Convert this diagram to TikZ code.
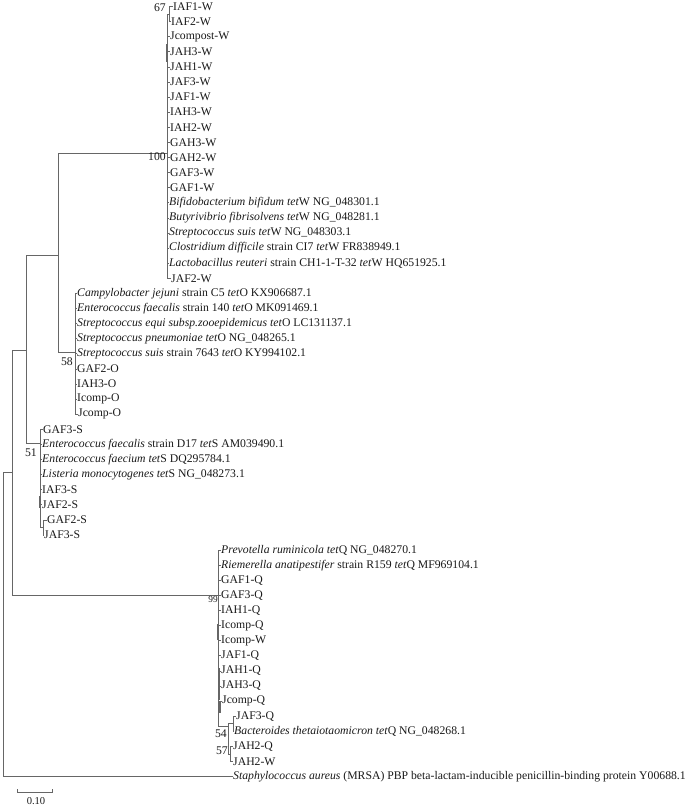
\documentclass[tikz,border=0pt]{standalone}
\usepackage{fontspec}
\setmainfont{Liberation Serif}
\usepackage{tikz}

\begin{document}
\begin{tikzpicture}[x=0.03cm,y=0.03cm]
\tikzstyle{every node}+=[inner sep=0pt]
\tikzstyle{taxon}=[anchor=west, text=black!90]
\tikzstyle{boot}=[anchor=east, text=black!90]
\tikzstyle{branch}=[black!60, line width=0.6pt]
\useasboundingbox (0,0) rectangle (685,-806);
% tet(W) group
\node [taxon] (w0) at (173,-6.5) {IAF1-W};
\node [taxon] (w1) at (171,-21.6) {IAF2-W};
\node [taxon] (w2) at (170,-36.7) {Jcompost-W};
\node [taxon] (w3) at (170,-51.8) {JAH3-W};
\node [taxon] (w4) at (170,-66.9) {JAH1-W};
\node [taxon] (w5) at (170,-82.0) {JAF3-W};
\node [taxon] (w6) at (170,-97.1) {JAF1-W};
\node [taxon] (w7) at (170,-112.2) {IAH3-W};
\node [taxon] (w8) at (170,-127.3) {IAH2-W};
\node [taxon] (w9) at (170,-142.4) {GAH3-W};
\node [taxon] (w10) at (170,-157.5) {GAH2-W};
\node [taxon] (w11) at (170,-172.6) {GAF3-W};
\node [taxon] (w12) at (170,-187.7) {GAF1-W};
\node [taxon] (w13) at (169,-202.8) {\textit{Bifidobacterium bifidum tet}W NG\_048301.1};
\node [taxon] (w14) at (169,-217.9) {\textit{Butyrivibrio fibrisolvens tet}W NG\_048281.1};
\node [taxon] (w15) at (169,-233.0) {\textit{Streptococcus suis tet}W NG\_048303.1};
\node [taxon] (w16) at (169,-248.1) {\textit{Clostridium difficile} strain CI7 \textit{tet}W FR838949.1};
\node [taxon] (w17) at (169,-263.2) {\textit{Lactobacillus reuteri} strain CH1-1-T-32 \textit{tet}W HQ651925.1};
\node [taxon] (w18) at (171,-278.3) {JAF2-W};
% tet(O) group
\node [taxon] (o19) at (77,-293.4) {\textit{Campylobacter jejuni} strain C5 \textit{tet}O KX906687.1};
\node [taxon] (o20) at (77,-308.5) {\textit{Enterococcus faecalis} strain 140 \textit{tet}O MK091469.1};
\node [taxon] (o21) at (77,-323.6) {\textit{Streptococcus equi subsp.zooepidemicus tet}O LC131137.1};
\node [taxon] (o22) at (77,-338.7) {\textit{Streptococcus pneumoniae tet}O NG\_048265.1};
\node [taxon] (o23) at (77,-353.8) {\textit{Streptococcus suis} strain 7643 \textit{tet}O KY994102.1};
\node [taxon] (o24) at (77,-368.9) {GAF2-O};
\node [taxon] (o25) at (77,-384.0) {IAH3-O};
\node [taxon] (o26) at (77,-399.1) {Icomp-O};
\node [taxon] (o27) at (78,-414.2) {Jcomp-O};
% tet(S) group
\node [taxon] (s28) at (43,-429.3) {GAF3-S};
\node [taxon] (s29) at (42,-444.4) {\textit{Enterococcus faecalis} strain D17 \textit{tet}S AM039490.1};
\node [taxon] (s30) at (42,-459.5) {\textit{Enterococcus faecium tet}S DQ295784.1};
\node [taxon] (s31) at (42,-474.6) {\textit{Listeria monocytogenes tet}S NG\_048273.1};
\node [taxon] (s32) at (42,-489.7) {IAF3-S};
\node [taxon] (s33) at (42,-504.8) {JAF2-S};
\node [taxon] (s34) at (47,-519.9) {GAF2-S};
\node [taxon] (s35) at (44,-535.0) {JAF3-S};
% tet(Q) group
\node [taxon] (q36) at (221,-550.1) {\textit{Prevotella ruminicola tet}Q NG\_048270.1};
\node [taxon] (q37) at (221,-565.2) {\textit{Riemerella anatipestifer} strain R159 \textit{tet}Q MF969104.1};
\node [taxon] (q38) at (221,-580.3) {GAF1-Q};
\node [taxon] (q39) at (221,-595.4) {GAF3-Q};
\node [taxon] (q40) at (221,-610.5) {IAH1-Q};
\node [taxon] (q41) at (221,-625.6) {Icomp-Q};
\node [taxon] (q42) at (221,-640.7) {Icomp-W};
\node [taxon] (q43) at (221,-655.8) {JAF1-Q};
\node [taxon] (q44) at (221,-670.9) {JAH1-Q};
\node [taxon] (q45) at (221,-686.0) {JAH3-Q};
\node [taxon] (q46) at (222,-701.1) {Jcomp-Q};
\node [taxon] (q47) at (236,-716.2) {JAF3-Q};
\node [taxon] (q48) at (234,-731.3) {\textit{Bacteroides thetaiotaomicron tet}Q NG\_048268.1};
\node [taxon] (q49) at (233,-746.4) {JAH2-Q};
\node [taxon] (q50) at (233,-761.5) {JAH2-W};
% outgroup
\node [taxon] (st) at (233,-776.6) {\textit{Staphylococcus aureus} (MRSA) PBP beta-lactam-inducible penicillin-binding protein Y00688.1};
% inner nodes
\coordinate (n67) at (169,-14);
\coordinate (nW) at (167,-153);
\coordinate (nO) at (75,-352);
\coordinate (nWO) at (58,-255);
\coordinate (nSb) at (43,-527.5);
\coordinate (nS) at (40,-443);
\coordinate (n26) at (26,-350);
\coordinate (nJB) at (233,-723.7);
\coordinate (n57) at (230,-754);
\coordinate (n54) at (228,-726);
\coordinate (nQ) at (218,-595.4);
\coordinate (n12) at (12,-472.7);
\coordinate (root) at (3,-472.7);
% branches
\draw [branch] (n67 |- w0) -- (n67 |- w1);
\draw [branch] (n67 |- w0) -- (w0.west) (n67 |- w1) -- (w1.west);
\draw [branch] (nW |- n67) -- (nW |- w18);
\draw [branch] (nW |- n67) -- (n67);
\draw [branch] (nW |- w2) -- (w2.west) (nW |- w3) -- (w3.west) (nW |- w4) -- (w4.west)
  (nW |- w5) -- (w5.west) (nW |- w6) -- (w6.west) (nW |- w7) -- (w7.west)
  (nW |- w8) -- (w8.west) (nW |- w9) -- (w9.west) (nW |- w10) -- (w10.west)
  (nW |- w11) -- (w11.west) (nW |- w12) -- (w12.west) (nW |- w13) -- (w13.west)
  (nW |- w14) -- (w14.west) (nW |- w15) -- (w15.west) (nW |- w16) -- (w16.west)
  (nW |- w17) -- (w17.west) (nW |- w18) -- (w18.west);
\draw [branch] (nO |- o19) -- (nO |- o27);
\draw [branch] (nO |- o19) -- (o19.west) (nO |- o20) -- (o20.west) (nO |- o21) -- (o21.west)
  (nO |- o22) -- (o22.west) (nO |- o23) -- (o23.west) (nO |- o24) -- (o24.west)
  (nO |- o25) -- (o25.west) (nO |- o26) -- (o26.west) (nO |- o27) -- (o27.west);
\draw [branch] (nWO |- nW) -- (nWO |- nO);
\draw [branch] (nWO |- nW) -- (nW) (nWO |- nO) -- (nO);
\draw [branch] (nSb |- s34) -- (nSb |- s35);
\draw [branch] (nSb |- s34) -- (s34.west) (nSb |- s35) -- (s35.west);
\draw [branch] (nS |- s28) -- (nS |- nSb);
\draw [branch] (nS |- s28) -- (s28.west) (nS |- s29) -- (s29.west) (nS |- s30) -- (s30.west)
  (nS |- s31) -- (s31.west) (nS |- s32) -- (s32.west) (nS |- s33) -- (s33.west)
  (nS |- nSb) -- (nSb);
\draw [branch] (n26 |- nWO) -- (n26 |- nS);
\draw [branch] (n26 |- nWO) -- (nWO) (n26 |- nS) -- (nS);
\draw [branch] (nJB |- q47) -- (nJB |- q48);
\draw [branch] (nJB |- q47) -- (q47.west) (nJB |- q48) -- (q48.west);
\draw [branch] (n57 |- q49) -- (n57 |- q50);
\draw [branch] (n57 |- q49) -- (q49.west) (n57 |- q50) -- (q50.west);
\draw [branch] (n54 |- nJB) -- (n54 |- n57);
\draw [branch] (n54 |- nJB) -- (nJB) (n54 |- n57) -- (n57);
\draw [branch] (nQ |- q36) -- (nQ |- n54);
\draw [branch] (nQ |- q36) -- (q36.west) (nQ |- q37) -- (q37.west) (nQ |- q38) -- (q38.west)
  (nQ |- q39) -- (q39.west) (nQ |- q40) -- (q40.west) (nQ |- q41) -- (q41.west)
  (nQ |- q42) -- (q42.west) (nQ |- q43) -- (q43.west) (nQ |- q44) -- (q44.west)
  (nQ |- q45) -- (q45.west) (nQ |- q46) -- (q46.west) (nQ |- n54) -- (n54);
\draw [branch] (n12 |- n26) -- (n12 |- nQ);
\draw [branch] (n12 |- n26) -- (n26) (n12 |- nQ) -- (nQ);
\draw [branch] (root) -- (root |- st);
\draw [branch] (root) -- (n12) (root |- st) -- (st.west);
% near-zero subclades
\draw [branch, line width=1.4pt] (167,-44) -- (167,-62);
\draw [branch, line width=1.4pt] (40,-496) -- (40,-508);
\draw [branch, line width=1.4pt] (218,-624) -- (218,-640);
\draw [branch, line width=1.4pt] (219,-668) -- (219,-700);
\draw [branch, line width=1.4pt] (220,-701) -- (220,-713);
% bootstrap values
\node [boot] (b67) at (166,-8) {67};
\node [boot] (b100) at (166,-157) {100};
\node [boot] (b58) at (73,-362) {58};
\node [boot] (b51) at (37,-453) {51};
\node [boot, font=\footnotesize] (b99) at (218,-599) {99};
\node [boot] (b54) at (227,-734) {54};
\node [boot] (b57) at (228,-751) {57};
% scale bar
\draw [branch] (17,-789) -- (17,-792) -- (52,-792) -- (52,-789);
\node [text=black!90, font=\small] (bar) at (36,-801) {0.10};
\end{tikzpicture}
\end{document}
